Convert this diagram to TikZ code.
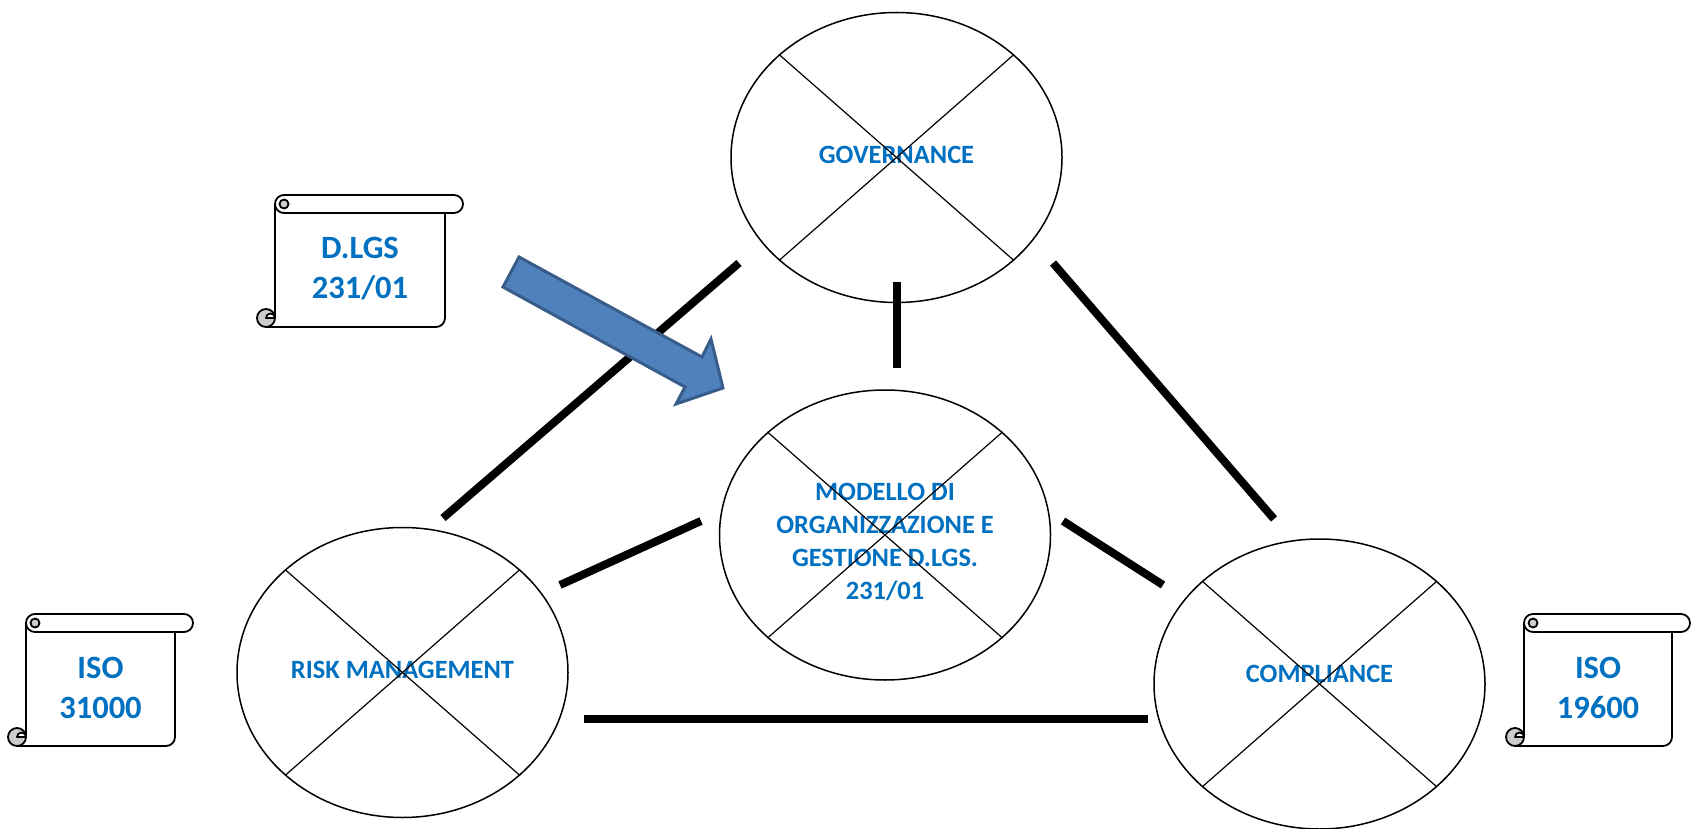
\documentclass[tikz,border=0pt]{standalone}
\usepackage{fontspec}
\setmainfont{Carlito}
\usetikzlibrary{shapes.geometric}
\definecolor{ofblue}{HTML}{0070C0}
\definecolor{arrowfill}{HTML}{4F81BD}
\definecolor{arrowline}{HTML}{385D8A}
\definecolor{curl}{HTML}{CDCDCD}
\tikzset{
    oval/.style={ellipse, draw, line width=1.5pt, minimum width=331pt,
    	minimum height=290pt, inner sep=0pt, align=center, text=ofblue,
    	font=\fontsize{26.4}{33}\selectfont\bfseries},
    cross/.style={line width=1.2pt},
    link/.style={line width=8pt},
    scrl/.style={line width=1.8pt, line join=round},
    scrolltext/.style={align=center, text=ofblue,
    	font=\fontsize{32.5}{40}\selectfont\bfseries}
}
% vertical scroll: name, left, top, width, text
\newcommand{\vscroll}[5]{%
    \begin{scope}[shift={(#2,#3)}]
	\fill[white] (18,9) rectangle ({#4-18},132);
	\draw[scrl] (18,9) -- (18,123);
	\draw[scrl, rounded corners=9pt] (9,132) -- ({#4-18},132) -- ({#4-18},18);
	\filldraw[scrl, fill=curl] (9,123) circle[radius=9];
	\filldraw[scrl, fill=white] (9,123) arc[start angle=180, end angle=360, radius=4.5] -- cycle;
	\filldraw[scrl, fill=white, rounded corners=9pt] (18,0) rectangle (#4,18);
	\filldraw[scrl, fill=curl] (27,9) circle[radius=4.5];
	\node[scrolltext] (#1) at ({#4/2},74) {#5};
    \end{scope}}

\begin{document}
\begin{tikzpicture}[x=1pt, y=-1pt]
	\useasboundingbox (0,0) rectangle (1700,829);
	\node[oval, text depth=6pt] (gov) at (896.5,157.5) {GOVERNANCE};
	\node[oval] (mod) at (885,535) {\rule{0pt}{31pt}MODELLO DI\\ORGANIZZAZIONE E\\GESTIONE D.LGS.\\231/01};
	\node[oval, text depth=6pt] (risk) at (402.5,672.5) {RISK MANAGEMENT};
	\node[oval, text depth=20pt] (comp) at (1319.5,684) {COMPLIANCE};
	\foreach \n in {gov, mod, risk, comp} {
		\draw[cross] (\n.north west) -- (\n.south east);
		\draw[cross] (\n.north east) -- (\n.south west);
	}
	% ends of the thick links
	\coordinate (gr1) at (739,263); \coordinate (gr2) at (443,518);
	\coordinate (gm1) at (897,282); \coordinate (gm2) at (897,368);
	\coordinate (gc1) at (1053,263); \coordinate (gc2) at (1274,519);
	\coordinate (rm1) at (560,585); \coordinate (rm2) at (701,521);
	\coordinate (mc1) at (1063,521); \coordinate (mc2) at (1163,585);
	\coordinate (rc1) at (584,719); \coordinate (rc2) at (1148,719);
	\draw[link] (gr1) -- (gr2); \draw[link] (gm1) -- (gm2); \draw[link] (gc1) -- (gc2);
	\draw[link] (rm1) -- (rm2); \draw[link] (mc1) -- (mc2); \draw[link] (rc1) -- (rc2);
	% block arrow
	\filldraw[fill=arrowfill, draw=arrowline, line width=3pt]
		(519,257) -- (702,357) -- (711,339) -- (723,388) -- (676,404)
		-- (685,387) -- (503,287) -- cycle;
	% scrolls
	\vscroll{dlgs}{257}{195}{206}{D.LGS\\231/01}
	\vscroll{isoa}{8}{614}{185}{ISO\\31000}
	\vscroll{isob}{1506}{614}{184}{ISO\\19600}
\end{tikzpicture}
\end{document}
